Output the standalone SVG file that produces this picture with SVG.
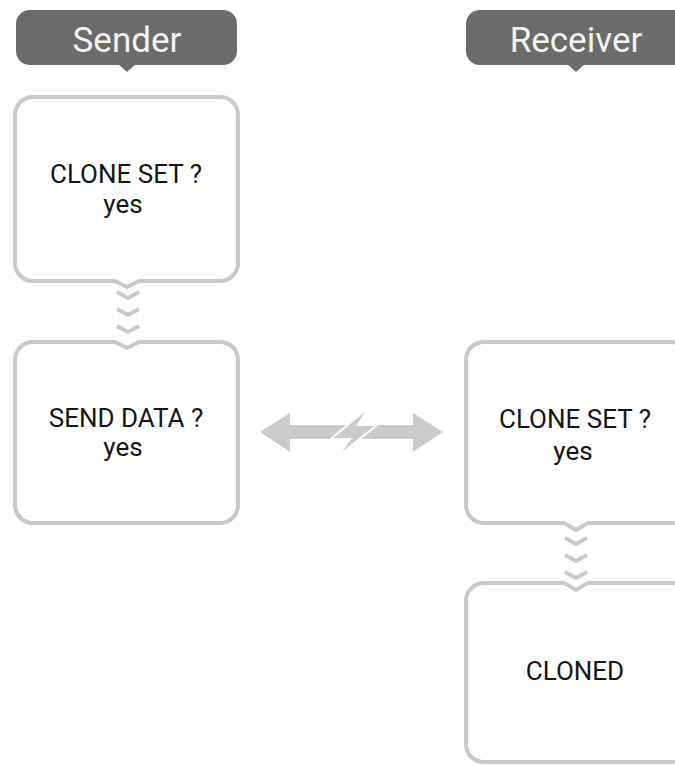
<svg xmlns="http://www.w3.org/2000/svg" width="675" height="765" viewBox="0 0 675 765">
<style>
.hdr{fill:#6b6b6b}
.hdrt{font-family:Roboto,"Liberation Sans",sans-serif;font-size:35px;fill:#f4f4f4;text-anchor:middle}
.box{fill:#fff;stroke:#c9c9c9;stroke-width:4;stroke-linejoin:round}
.t{font-family:Roboto,"Liberation Sans",sans-serif;font-size:26px;fill:#151515;text-anchor:middle}
.chev{fill:none;stroke:#c9c9c9;stroke-width:4}
.arr{fill:#cbcbcb}
</style>
<rect width="675" height="765" fill="#fff"/>
<g id="sender-header">
<rect class="hdr" x="16" y="10" width="221" height="55" rx="14"/>
<polygon class="hdr" points="118,64 136,64 127,72"/>
<text class="hdrt" x="127" y="52">Sender</text>
</g>
<g id="receiver-header">
<rect class="hdr" x="466" y="10" width="240" height="55" rx="14"/>
<polygon class="hdr" points="567,64 585,64 576,72"/>
<text class="hdrt" x="576" y="52">Receiver</text>
</g>
<g id="sender-clone-set">
<path class="box" d="M33,97 H220 A18,18 0 0 1 238,115 V263 A18,18 0 0 1 220,281 H139 L127,287 L115,281 H33 A18,18 0 0 1 15,263 V115 A18,18 0 0 1 33,97 Z"/>
<text class="t" x="126" y="183">CLONE SET ?</text>
<text class="t" x="123" y="213">yes</text>
</g>
<g id="sender-send-data">
<path class="box" d="M33,342 H115 L127,348 L139,342 H220 A18,18 0 0 1 238,360 V505 A18,18 0 0 1 220,523 H33 A18,18 0 0 1 15,505 V360 A18,18 0 0 1 33,342 Z"/>
<text class="t" x="126" y="427">SEND DATA ?</text>
<text class="t" x="123" y="456">yes</text>
</g>
<g id="receiver-clone-set">
<path class="box" d="M484,342 H672 A18,18 0 0 1 690,360 V505 A18,18 0 0 1 672,523 H588 L576,530 L564,523 H484 A18,18 0 0 1 466,505 V360 A18,18 0 0 1 484,342 Z"/>
<text class="t" x="575" y="428">CLONE SET ?</text>
<text class="t" x="573" y="460">yes</text>
</g>
<g id="receiver-cloned">
<path class="box" d="M484,583 H564 L576,590 L588,583 H672 A18,18 0 0 1 690,601 V744 A18,18 0 0 1 672,762 H484 A18,18 0 0 1 466,744 V601 A18,18 0 0 1 484,583 Z"/>
<text class="t" x="575" y="680">CLONED</text>
</g>
<g id="connectors">
<polyline class="chev" points="117,292 128,298 139,292"/>
<polyline class="chev" points="117,309 128,315 139,309"/>
<polyline class="chev" points="117,326 128,332 139,326"/>
<polyline class="chev" points="565,538 576,544 587,538"/>
<polyline class="chev" points="565,555 576,561 587,555"/>
<polyline class="chev" points="565,572 576,578 587,572"/>
<polygon class="arr" points="260,432 290,413 290,425 348,425 348,439 290,439 290,452"/>
<polygon class="arr" points="443,432 413,413 413,425 357,425 357,439 413,439 413,452"/>
<polygon class="arr" stroke="#fff" stroke-width="2" stroke-linejoin="miter" points="369,407 331,439 350,439 337,457 377,425 358,425"/>
</g>
</svg>
